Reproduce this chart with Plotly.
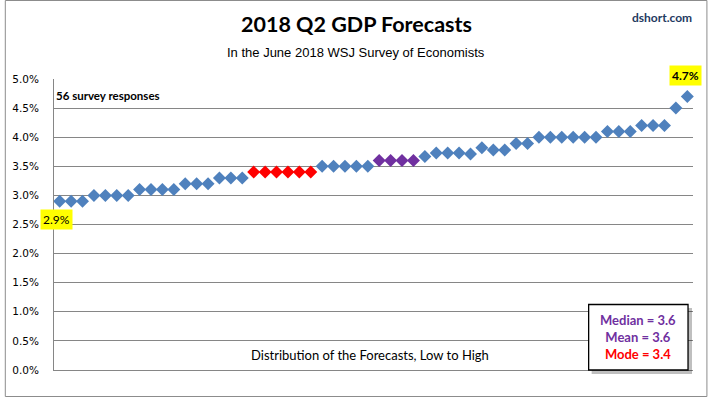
import plotly.graph_objects as go

# ---- data ----
forecasts = [2.9, 2.9, 2.9,
             3.0, 3.0, 3.0, 3.0,
             3.1, 3.1, 3.1, 3.1,
             3.2, 3.2, 3.2,
             3.3, 3.3, 3.3,
             3.4, 3.4, 3.4, 3.4, 3.4, 3.4,
             3.5, 3.5, 3.5, 3.5, 3.5,
             3.6, 3.6, 3.6, 3.6,
             3.67,
             3.73, 3.73, 3.73, 3.71,
             3.82, 3.78, 3.78,
             3.89, 3.89,
             4.0, 4.0, 4.0, 4.0, 4.0, 4.0,
             4.1, 4.1, 4.1,
             4.2, 4.2, 4.2,
             4.5, 4.7]
positions = list(range(1, len(forecasts) + 1))
median_val, mean_val, mode_val = 3.6, 3.6, 3.4
median_idx = [29, 30, 31, 32]
mode_idx = [18, 19, 20, 21, 22, 23]
y_ticks = [0.0, 0.5, 1.0, 1.5, 2.0, 2.5, 3.0, 3.5, 4.0, 4.5, 5.0]
y_tick_labels = ["0.0%", "0.5%", "1.0%", "1.5%", "2.0%", "2.5%", "3.0%",
                 "3.5%", "4.0%", "4.5%", "5.0%"]

BLUE, RED, PURPLE = "#4F81BD", "#FF0000", "#7030A0"
colors = []
for p in positions:
    if p in mode_idx:
        colors.append(RED)
    elif p in median_idx:
        colors.append(PURPLE)
    else:
        colors.append(BLUE)

W, H = 709, 398
ML, MR, MT, MB = 50, 16, 79, 28
PW, PH = W - ML - MR, H - MT - MB


def px(xp):
    return (xp - ML) / PW


def py(yp):
    return (H - MB - yp) / PH


fig = go.Figure()
fig.add_trace(go.Scatter(
    x=positions, y=forecasts, mode="markers",
    marker=dict(symbol="diamond", size=10, color=colors, line=dict(width=0)),
    showlegend=False, hoverinfo="y", cliponaxis=False))

CAL = "Lato, 'Open Sans', sans-serif"

shapes = [
    # outer frame
    dict(type="rect", xref="paper", yref="paper",
         x0=px(1), x1=px(707), y0=py(396.5), y1=py(0.5),
         line=dict(color="#8C8C8C", width=1), fillcolor="rgba(0,0,0,0)", layer="below"),
    # stats box shadow
    dict(type="rect", xref="paper", yref="paper",
         x0=px(591), x1=px(692), y0=py(374), y1=py(308),
         line=dict(width=0), fillcolor="rgba(0,0,0,0.25)"),
    # stats box
    dict(type="rect", xref="paper", yref="paper",
         x0=px(588), x1=px(688), y0=py(370), y1=py(304.5),
         line=dict(color="#000000", width=1.3), fillcolor="#FFFFFF"),
]

annotations = [
    dict(text="<b>2018 Q2 GDP Forecasts</b>", xref="paper", yref="paper",
         x=px(354), y=py(24), xanchor="center", yanchor="middle", showarrow=False,
         font=dict(family=CAL, size=21.5, color="#000000")),
    dict(text="In the June 2018 WSJ Survey of Economists", xref="paper", yref="paper",
         x=px(354), y=py(52), xanchor="center", yanchor="middle", showarrow=False,
         font=dict(family="Liberation Sans, Arial, sans-serif", size=13, color="#000000")),
    dict(text="<b>dshort.com</b>", xref="paper", yref="paper",
         x=px(694), y=py(17), xanchor="right", yanchor="middle", showarrow=False,
         font=dict(family=CAL, size=12, color="#1F3A5F")),
    dict(text="<b>56 survey responses</b>", xref="paper", yref="paper",
         x=px(50), y=py(95), xanchor="left", yanchor="middle", showarrow=False,
         font=dict(family=CAL, size=11.5, color="#000000")),
    dict(text="Distribution of the Forecasts, Low to High", xref="paper", yref="paper",
         x=px(368), y=py(355), xanchor="center", yanchor="middle", showarrow=False,
         font=dict(family=CAL, size=13, color="#000000")),
    dict(text=(f"<span style='color:{PURPLE}'><b>Median = {median_val}</b></span><br>"
               f"<span style='color:{PURPLE}'><b>Mean = {mean_val}</b></span><br>"
               f"<span style='color:{RED}'><b>Mode = {mode_val}</b></span>"),
         xref="paper", yref="paper", x=px(638), y=py(337),
         xanchor="center", yanchor="middle", showarrow=False, align="center",
         font=dict(family=CAL, size=13)),
    dict(text=f"{forecasts[0]}%", x=positions[0], y=forecasts[0], xref="x", yref="y",
         xanchor="center", yanchor="middle", xshift=-3, yshift=-18, showarrow=False,
         bgcolor="#FFFF00", borderpad=2,
         font=dict(family=CAL, size=12, color="#000000")),
    dict(text=f"<b>{forecasts[-1]}%</b>", x=positions[-1], y=forecasts[-1], xref="x", yref="y",
         xanchor="center", yanchor="middle", xshift=-2, yshift=21, showarrow=False,
         bgcolor="#FFFF00", borderpad=2,
         font=dict(family=CAL, size=12, color="#000000")),
]

fig.update_layout(
    width=W, height=H,
    margin=dict(l=ML, r=MR, t=MT, b=MB, pad=0),
    paper_bgcolor="#FFFFFF", plot_bgcolor="#FFFFFF",
    shapes=shapes, annotations=annotations,
    xaxis=dict(range=[0.5, 56.5], showgrid=False, showticklabels=False, ticks="",
               zeroline=False, showline=True, linecolor="#868686", linewidth=1,
               fixedrange=True),
    yaxis=dict(range=[0, 5.0], tickvals=y_ticks, ticktext=y_tick_labels,
               showgrid=True, gridcolor="#868686", gridwidth=1,
               zeroline=False, showline=True, linecolor="#868686", linewidth=1,
               ticks="", ticklabelstandoff=12,
               tickfont=dict(family="DejaVu Sans, Verdana, sans-serif", size=10.5, color="#000000"),
               fixedrange=True),
)

fig.write_html("out.html", config={"displayModeBar": False},
               post_script="document.body.style.margin='0px';document.body.style.overflow='hidden';")
